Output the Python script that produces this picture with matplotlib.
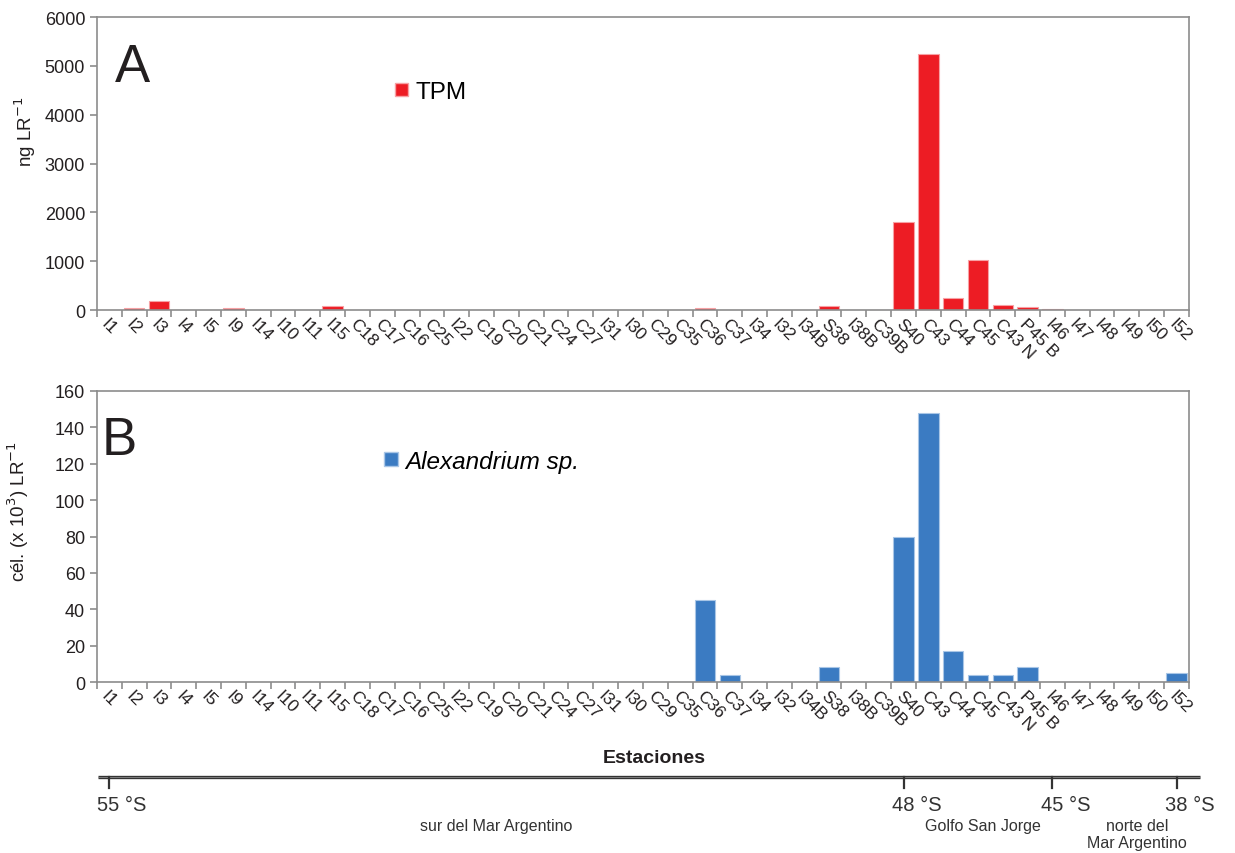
import numpy as np
import matplotlib
matplotlib.use("Agg")
import matplotlib.pyplot as plt
from matplotlib.patches import Patch

plt.rcParams['font.family'] = ['Liberation Sans', 'DejaVu Sans']

## Data ##
estaciones = ['I1', 'I2', 'I3', 'I4', 'I5', 'I9', 'I14', 'I10', 'I11', 'I15',
              'C18', 'C17', 'C16', 'C25', 'I22', 'C19', 'C20', 'C21', 'C24', 'C27',
              'I31', 'I30', 'C29', 'C35', 'C36', 'C37', 'I34', 'I32', 'I34B', 'S38',
              'I38B', 'C39B', 'S40', 'C43', 'C44', 'C45', 'C43 N', 'P45 B', 'I46', 'I47',
              'I48', 'I49', 'I50', 'I52']

# TPM (ng LR-1)
tpm = [0, 45, 175, 0, 0, 45, 0, 0, 0, 75,
       0, 0, 0, 0, 0, 0, 0, 0, 0, 0,
       0, 0, 0, 0, 50, 0, 0, 0, 0, 80,
       0, 0, 1800, 5250, 255, 1030, 95, 70, 15, 0,
       0, 0, 0, 0]

# Alexandrium sp. (cel x 10^3 LR-1)
alexandrium = [0, 0, 0, 0, 0, 0, 0, 0, 0, 0,
               0, 0, 0, 0, 0, 0, 0, 0, 0, 0,
               0, 0, 0, 0, 45, 4, 0, 0, 0, 8,
               0, 0, 80, 148, 17, 4, 4, 8, 0, 0,
               0, 0, 0, 5]

# latitude scale under the plots (station index where each mark sits)
lat_labels = ['55 °S', '48 °S', '45 °S', '38 °S']
lat_pos = [0, 32, 38, 43]
region_labels = ['sur del Mar Argentino', 'Golfo San Jorge', 'norte del\nMar Argentino']
region_pos = [15.6, 35.2, 41.4]

RED = '#ED1C24'
BLUE = '#3B7BC2'
SPINE = '#8c8c8c'
TXT = '#231f20'

x = np.arange(len(estaciones))
xlim = (-0.5, len(estaciones) - 0.5)


def style_panel(ax, ymax, ystep):
    ax.set_xlim(*xlim)
    ax.set_ylim(0, ymax)
    ax.set_yticks(np.arange(0, ymax + ystep, ystep))
    for s in ax.spines.values():
        s.set_color(SPINE)
        s.set_linewidth(1.2)
    # tick marks between categories, labels at the centers
    ax.set_xticks(np.arange(-0.5, len(estaciones)), minor=False)
    ax.set_xticklabels([])
    ax.set_xticks(x, minor=True)
    ax.set_xticklabels(estaciones, minor=True, rotation=-45, ha='left', va='top',
                       rotation_mode='anchor', fontsize=12.5, color=TXT)
    ax.tick_params(axis='x', which='major', direction='out', length=5, color=SPINE, width=1.2)
    ax.tick_params(axis='x', which='minor', length=0, pad=4)
    ax.tick_params(axis='y', direction='out', length=5, color=SPINE, width=1.2,
                   labelsize=13, labelcolor=TXT)


fig = plt.figure(figsize=(12.35, 8.54), dpi=100)

## Panel A ##
axA = fig.add_axes([0.0785, 0.6358, 0.8842, 0.3431])
axA.bar(x, tpm, width=0.83, color=RED, edgecolor='#F7A1A4', linewidth=0.8)
style_panel(axA, 6000, 1000)
axA.set_ylabel('ng LR$^{-1}$', fontsize=13.5, color=TXT)
axA.yaxis.set_label_coords(-0.054, 0.61)
axA.text(0.016, 0.782, 'A', transform=axA.transAxes, fontsize=38, color=TXT, va='baseline')
axA.legend(handles=[Patch(facecolor=RED, edgecolor='#F7A1A4', label='TPM')],
           loc='center left', bbox_to_anchor=(0.273, 0.744), frameon=False,
           handlelength=0.55, handleheight=0.45, handletextpad=0.3,
           borderpad=0, borderaxespad=0, prop={'size': 17.5})

## Panel B ##
axB = fig.add_axes([0.0785, 0.2002, 0.8842, 0.3408])
axB.bar(x, alexandrium, width=0.83, color=BLUE, edgecolor='#A9C6E6', linewidth=0.8)
style_panel(axB, 160, 20)
axB.set_ylabel('cél. (x 10$^{3}$) LR$^{-1}$', fontsize=13.5, color=TXT)
axB.yaxis.set_label_coords(-0.06, 0.588)
axB.text(0.004, 0.783, 'B', transform=axB.transAxes, fontsize=38, color=TXT, va='baseline')
axB.legend(handles=[Patch(facecolor=BLUE, edgecolor='#A9C6E6', label='Alexandrium sp.')],
           loc='center left', bbox_to_anchor=(0.263, 0.759), frameon=False,
           handlelength=0.55, handleheight=0.45, handletextpad=0.3,
           borderpad=0, borderaxespad=0, prop={'size': 17.5, 'style': 'italic'})

fig.text(0.5296, 0.1124, 'Estaciones', fontsize=14, fontweight='bold', color=TXT,
         ha='center', va='center')

## Latitude scale ##
# y in pixels below the line
axL = fig.add_axes([0.0785, 0.0, 0.8842, 0.0890])
axL.set_xlim(*xlim)
axL.set_ylim(76, 0)
axL.axis('off')
axL.plot([-0.46, 43.95], [0, 0], color='#333333', lw=2.4, solid_capstyle='butt', clip_on=False)
axL.plot([-0.46, 43.95], [0, 0], color='#9a9a9a', lw=0.5, solid_capstyle='butt', clip_on=False)
for lab, p in zip(lat_labels, lat_pos):
    axL.plot([p, p], [0, 11], color='#333333', lw=1.6, clip_on=False)
    axL.text(p - 0.48, 18, lab, fontsize=14.5, color='#333333', ha='left', va='top')
for lab, p in zip(region_labels, region_pos):
    axL.text(p, 41, lab, fontsize=11.5, color='#333333', ha='center', va='top',
             linespacing=1.15)

plt.savefig('out.png', dpi=100)
plt.close('all')
